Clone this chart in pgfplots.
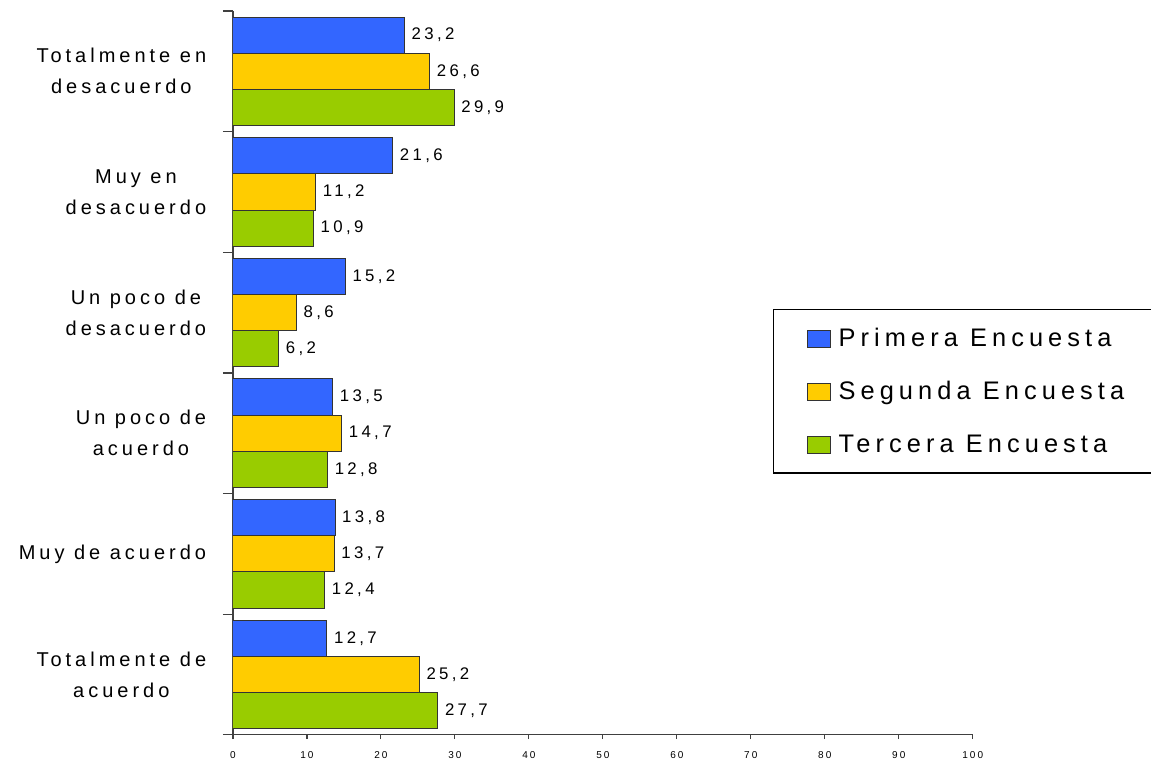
\documentclass[border=0pt]{standalone}
\usepackage{pgfplots}
\pgfplotsset{compat=1.18}
\usepackage{fontspec}
\setmainfont[LetterSpace=20]{Liberation Sans}
\definecolor{encA}{HTML}{3366FF}
\definecolor{encB}{HTML}{FFCC00}
\definecolor{encC}{HTML}{99CC00}
\pgfplotsset{boxleg/.style={legend image code/.code={\draw[##1,line width=0.5pt] (0pt,-4.25pt) rectangle (11.5pt,4.25pt);}}}

\begin{document}
\begin{tikzpicture}
\begin{axis}[
    scale only axis, width=370pt, height=362pt,
    xbar, bar width=0.3, point meta=x,
    xmin=0, xmax=100, ymin=-0.5, ymax=5.5, y dir=reverse,
    axis x line*=bottom, axis y line*=left,
    axis line style={black!75, line width=0.6pt},
    xtick={0,10,...,100},
    ytick={0,...,5},
    yticklabels={{Totalmente en\\desacuerdo},{Muy en\\desacuerdo},{Un poco de\\desacuerdo},{Un poco de\\acuerdo},{Muy de acuerdo},{Totalmente de\\acuerdo}},
    yticklabel style={align=center, inner sep=0pt, xshift=-11pt, font=\fontsize{10}{15.5}\selectfont},
    xticklabel style={font=\fontsize{5}{6}\selectfont, yshift=-2.5pt},
    minor ytick={-0.5,0.5,...,5.5},
    tick align=outside,
    major tick length=2.2pt, minor tick length=5pt,
    major y tick style={draw=none},
    minor tick style={draw=black!75, line width=0.6pt},
    xtick style={black!75, line width=0.6pt},
    /pgf/number format/assume math mode=true,
    nodes near coords={\pgfmathprintnumber[fixed,fixed zerofill,precision=1,use comma]{\pgfplotspointmeta}},
    nodes near coords style={font=\fontsize{8.4}{10}\selectfont},
    legend style={at={(axis description cs:0.730,0.588)}, anchor=north west,
        draw=black, line width=0.6pt, font=\fontsize{12.7}{14}\selectfont,
        inner xsep=16.5pt, inner ysep=9pt, row sep=16pt, column sep=4pt,
        nodes={inner sep=0pt}, cells={anchor=west}},
]
\addplot[fill=encA, draw=black!80, line width=0.5pt, bar shift=-0.3, boxleg]
    coordinates {(23.2,0) (21.6,1) (15.2,2) (13.5,3) (13.8,4) (12.7,5)};
\addlegendentry{Primera Encuesta}
\addplot[fill=encB, draw=black!80, line width=0.5pt, bar shift=0, boxleg]
    coordinates {(26.6,0) (11.2,1) (8.6,2) (14.7,3) (13.7,4) (25.2,5)};
\addlegendentry{Segunda Encuesta}
\addplot[fill=encC, draw=black!80, line width=0.5pt, bar shift=0.3, boxleg]
    coordinates {(29.9,0) (10.9,1) (6.2,2) (12.8,3) (12.4,4) (27.7,5)};
\addlegendentry{Tercera Encuesta}
\end{axis}
\pgfresetboundingbox
\path ([shift={(-116.5pt,5.5pt)}]current axis.north west) rectangle ([shift={(89.15pt,-14.5pt)}]current axis.south east);
\end{tikzpicture}
\end{document}
